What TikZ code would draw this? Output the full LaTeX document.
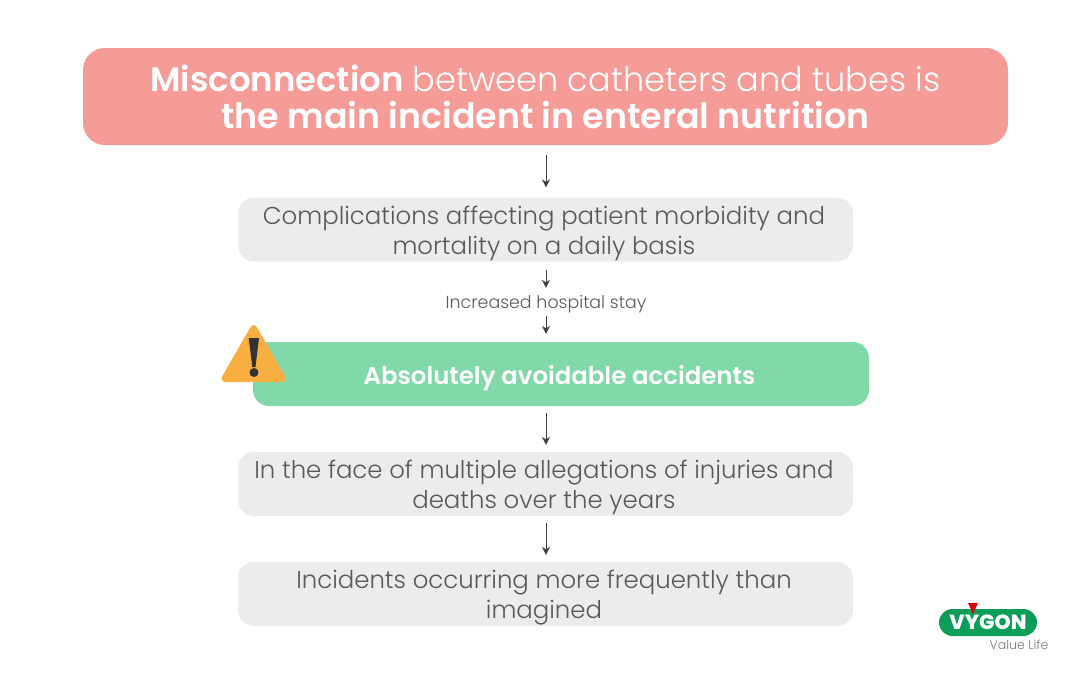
\documentclass[tikz,border=0pt]{standalone}
\usepackage{fontspec}
\setmainfont{Poppins Light}[BoldFont={Poppins SemiBold}]
\newfontfamily\logofont{Poppins ExtraBold}
\usepackage{tikz}
\usetikzlibrary{positioning, arrows.meta}
\definecolor{incident}{HTML}{F59C99}
\definecolor{panel}{HTML}{ECECEC}
\definecolor{avoid}{HTML}{81D8A8}
\definecolor{warn}{HTML}{F9AE41}
\definecolor{ink}{HTML}{58595B}
\definecolor{vygon}{HTML}{0C9D58}
\newcommand{\dropline}{\rule{0pt}{26pt}}
\newcommand{\leftpad}{\kern3pt}
\tikzset{
  greybox/.style = { fill = panel, rounded corners = 16pt, minimum width = 615pt, minimum height = 64pt,
    align = center, text = ink, font = \fontsize{24.4}{30}\selectfont, inner sep = 0pt },
  flow/.style = { -{Stealth[length = 8pt, width = 8pt]}, draw = black!75, line width = .8pt }
}
\begin{document}
\begin{tikzpicture}[x = 1pt, y = -1pt]
  \useasboundingbox (0,0) rectangle (1080,675);
  \node [fill = incident, rounded corners = 22pt, minimum width = 925pt, minimum height = 97pt, inner sep = 0pt,
    align = center, text = white, font = \fontsize{33.6}{37}\selectfont] (misconnection) at (545.5,96.5)
    { {\fontsize{33.9}{37}\selectfont\textbf{Misconnection}} between catheters and tubes is \\
      {\fontsize{34.8}{37}\selectfont\textbf{the main incident in enteral nutrition}} };
  \node [greybox] (complications) at (545.5,229.5) { \dropline Complications affecting patient morbidity and\leftpad \\ mortality on a daily basis\leftpad };
  \node [text = ink, font = \fontsize{17.4}{20}\selectfont, inner sep = 0pt, minimum height = 28pt] (stay) at (546,302) { \rule{0pt}{17pt}Increased hospital stay };
  \node [fill = avoid, rounded corners = 16pt, minimum width = 616pt, minimum height = 64pt, inner sep = 0pt,
    text = white, font = \fontsize{24.4}{28}\selectfont\bfseries] (avoidable) at (561,374) { \rule{0pt}{28pt}Absolutely avoidable accidents\leftpad };
  \node [greybox] (allegations) at (545.5,484) { \dropline In the face of multiple allegations of injuries and\leftpad \\ deaths over the years\leftpad };
  \node [greybox] (frequent) at (545.5,594) { \dropline Incidents occurring more frequently than\leftpad \\ imagined\leftpad };

  \draw [flow, shorten <= 10pt, shorten >= 10pt] (misconnection.south -| stay) -- (complications.north -| stay);
  \draw [flow, shorten <= 8pt] (complications.south -| stay) -- (stay);
  \draw [flow, shorten >= 8pt] (stay) -- (avoidable.north -| stay);
  \draw [flow, shorten <= 7pt, shorten >= 7pt] (avoidable.south -| stay) -- (allegations.north -| stay);
  \draw [flow, shorten <= 7pt, shorten >= 7pt] (allegations.south -| stay) -- (frequent.north -| stay);

  % warning sign
  \fill [warn, rounded corners = 7pt] (253.7,321.5) -- (288.5,382) -- (219,382) -- cycle;
  \fill [black!80] (248.7,338) -- (259,338) -- (255.5,367) -- (252.3,367) -- cycle;
  \fill [black!80] (254,372.5) circle (4.5pt);

  % logo
  \node [fill = vygon, rounded corners = 13.5pt, minimum width = 98pt, minimum height = 27pt, inner sep = 0pt,
    text = white, font = \fontsize{20.5}{20}\logofont\selectfont] (logo) at (988,622.5) { VYGON };
  \fill [red!90!black] (968,603) -- (978,603) -- (973,614) -- cycle;
  \node [text = ink!80, font = \fontsize{12.5}{14}\selectfont, inner sep = 0pt] (lifeline) at (1019,644.5) { Value Life };
\end{tikzpicture}
\end{document}
